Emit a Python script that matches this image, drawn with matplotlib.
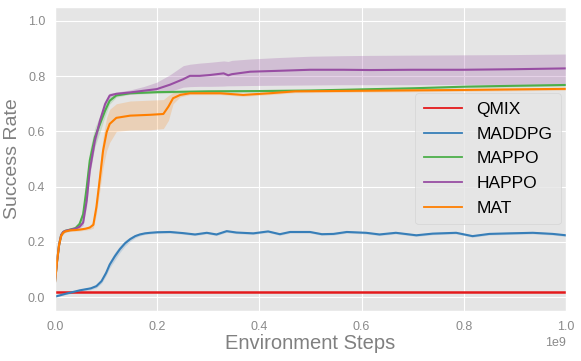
import matplotlib
matplotlib.use("Agg")
import matplotlib.pyplot as plt


# steps are in units of 1e9
QMIX_X = [0.0, 1.0]
QMIX_Y = [0.02, 0.02]

MADDPG_X = [0.0, 0.02, 0.049, 0.07, 0.081, 0.091, 0.1, 0.107, 0.117, 0.127, 0.137, 0.147,
            0.157, 0.166, 0.176, 0.186, 0.2, 0.225, 0.25, 0.274, 0.297, 0.316, 0.336, 0.355,
            0.388, 0.417, 0.44, 0.46, 0.499, 0.522, 0.545, 0.571, 0.609, 0.635, 0.667, 0.707,
            0.739, 0.785, 0.817, 0.85, 0.889, 0.935, 0.974, 1.0]
MADDPG_Y = [0.002, 0.012, 0.025, 0.032, 0.04, 0.058, 0.088, 0.118, 0.148, 0.174, 0.195, 0.21,
            0.221, 0.227, 0.231, 0.233, 0.235, 0.236, 0.232, 0.227, 0.233, 0.227, 0.239, 0.234,
            0.231, 0.238, 0.228, 0.236, 0.236, 0.228, 0.229, 0.236, 0.233, 0.227, 0.233, 0.224,
            0.23, 0.233, 0.221, 0.229, 0.231, 0.233, 0.229, 0.224]
MADDPG_STD = [0.003, 0.003, 0.004, 0.005, 0.006, 0.008, 0.01, 0.012, 0.014, 0.012, 0.01, 0.008,
              0.006, 0.005, 0.004, 0.004, 0.004, 0.004, 0.004, 0.004, 0.004, 0.004, 0.004, 0.004,
              0.004, 0.004, 0.004, 0.004, 0.004, 0.004, 0.004, 0.004, 0.004, 0.004, 0.004, 0.004,
              0.004, 0.004, 0.004, 0.004, 0.004, 0.004, 0.004, 0.004]

MAPPO_X = [0.0, 0.004, 0.008, 0.012, 0.016, 0.02, 0.03, 0.04, 0.048, 0.055, 0.062, 0.068,
           0.078, 0.088, 0.098, 0.107, 0.12, 0.147, 0.2, 0.3, 0.4, 0.5, 0.6, 0.7, 0.805, 0.9, 1.0]
MAPPO_Y = [0.055, 0.13, 0.19, 0.225, 0.236, 0.24, 0.245, 0.25, 0.265, 0.3, 0.398, 0.495,
           0.579, 0.627, 0.675, 0.711, 0.73, 0.738, 0.742, 0.745, 0.746, 0.748, 0.752, 0.756,
           0.762, 0.765, 0.768]
MAPPO_STD = [0.01, 0.01, 0.01, 0.008, 0.005, 0.004, 0.004, 0.006, 0.012, 0.025, 0.035, 0.04,
             0.035, 0.03, 0.02, 0.012, 0.006, 0.004, 0.004, 0.004, 0.004, 0.004, 0.004, 0.004,
             0.004, 0.004, 0.004]

HAPPO_X = [0.0, 0.004, 0.008, 0.012, 0.016, 0.02, 0.03, 0.04, 0.048, 0.055, 0.062, 0.068,
           0.078, 0.088, 0.098, 0.107, 0.12, 0.147, 0.173, 0.199, 0.225, 0.251, 0.264, 0.283,
           0.303, 0.33, 0.339, 0.346, 0.382, 0.434, 0.499, 0.564, 0.616, 0.7, 0.8, 0.9, 1.0]
HAPPO_Y = [0.055, 0.13, 0.19, 0.225, 0.236, 0.24, 0.244, 0.248, 0.255, 0.27, 0.35, 0.459,
           0.567, 0.639, 0.699, 0.73, 0.736, 0.741, 0.747, 0.753, 0.769, 0.789, 0.801, 0.801,
           0.804, 0.81, 0.803, 0.807, 0.816, 0.819, 0.823, 0.823, 0.822, 0.823, 0.823, 0.825,
           0.828]
HAPPO_LO = [0.05, 0.12, 0.18, 0.22, 0.232, 0.236, 0.24, 0.244, 0.25, 0.26, 0.33, 0.44,
            0.55, 0.625, 0.69, 0.722, 0.73, 0.735, 0.738, 0.742, 0.745, 0.76, 0.762, 0.763,
            0.763, 0.764, 0.765, 0.765, 0.766, 0.767, 0.768, 0.769, 0.769, 0.769, 0.77, 0.77,
            0.771]
HAPPO_HI = [0.06, 0.14, 0.2, 0.23, 0.24, 0.244, 0.248, 0.252, 0.26, 0.28, 0.37, 0.478,
            0.584, 0.653, 0.708, 0.738, 0.742, 0.75, 0.762, 0.778, 0.805, 0.838, 0.843, 0.847,
            0.85, 0.855, 0.853, 0.857, 0.862, 0.867, 0.872, 0.874, 0.875, 0.876, 0.877, 0.878,
            0.88]

MAT_X = [0.0, 0.004, 0.008, 0.012, 0.016, 0.02, 0.03, 0.04, 0.05, 0.06, 0.068, 0.075, 0.081,
         0.088, 0.094, 0.101, 0.107, 0.12, 0.147, 0.186, 0.212, 0.222, 0.231, 0.245, 0.264,
         0.323, 0.368, 0.42, 0.47, 0.6, 0.8, 1.0]
MAT_Y = [0.055, 0.13, 0.19, 0.222, 0.233, 0.238, 0.242, 0.243, 0.245, 0.248, 0.252, 0.262,
         0.326, 0.434, 0.53, 0.597, 0.627, 0.649, 0.657, 0.66, 0.663, 0.69, 0.72, 0.732, 0.738,
         0.738, 0.732, 0.738, 0.745, 0.747, 0.75, 0.754]
MAT_LO = [0.05, 0.12, 0.18, 0.216, 0.228, 0.234, 0.238, 0.239, 0.24, 0.243, 0.245, 0.25,
          0.3, 0.39, 0.47, 0.53, 0.56, 0.6, 0.605, 0.606, 0.61, 0.64, 0.7, 0.725, 0.733,
          0.733, 0.727, 0.733, 0.74, 0.742, 0.745, 0.749]
MAT_HI = [0.06, 0.14, 0.2, 0.228, 0.238, 0.242, 0.246, 0.247, 0.25, 0.253, 0.259, 0.274,
          0.36, 0.48, 0.58, 0.65, 0.68, 0.7, 0.71, 0.713, 0.715, 0.73, 0.74, 0.742, 0.743,
          0.743, 0.737, 0.743, 0.75, 0.752, 0.755, 0.759]

COLORS = {
    "QMIX": "#e41a1c",
    "MADDPG": "#377eb8",
    "MAPPO": "#4daf4a",
    "HAPPO": "#984ea3",
    "MAT": "#ff7f00",
}


def scale(xs):
    return [x * 1e9 for x in xs]


def main():
    plt.style.use("ggplot")
    plt.rcParams["font.family"] = ["Liberation Sans", "DejaVu Sans"]

    fig = plt.figure(figsize=(5.81, 3.61), dpi=100)
    ax = fig.add_axes([0.0947, 0.1385, 0.8795, 0.842])

    # QMIX
    ax.plot(scale(QMIX_X), QMIX_Y, color=COLORS["QMIX"], lw=1.8, label="QMIX")

    # MADDPG
    lo = [y - s for y, s in zip(MADDPG_Y, MADDPG_STD)]
    hi = [y + s for y, s in zip(MADDPG_Y, MADDPG_STD)]
    ax.fill_between(scale(MADDPG_X), lo, hi, color=COLORS["MADDPG"], alpha=0.2, lw=0)
    ax.plot(scale(MADDPG_X), MADDPG_Y, color=COLORS["MADDPG"], lw=1.5, label="MADDPG")

    # MAPPO
    lo = [y - s for y, s in zip(MAPPO_Y, MAPPO_STD)]
    hi = [y + s for y, s in zip(MAPPO_Y, MAPPO_STD)]
    ax.fill_between(scale(MAPPO_X), lo, hi, color=COLORS["MAPPO"], alpha=0.2, lw=0)
    ax.plot(scale(MAPPO_X), MAPPO_Y, color=COLORS["MAPPO"], lw=1.5, label="MAPPO")

    # HAPPO
    ax.fill_between(scale(HAPPO_X), HAPPO_LO, HAPPO_HI, color=COLORS["HAPPO"], alpha=0.25, lw=0)
    ax.plot(scale(HAPPO_X), HAPPO_Y, color=COLORS["HAPPO"], lw=1.5, label="HAPPO")

    # MAT
    ax.fill_between(scale(MAT_X), MAT_LO, MAT_HI, color=COLORS["MAT"], alpha=0.2, lw=0)
    ax.plot(scale(MAT_X), MAT_Y, color=COLORS["MAT"], lw=1.5, label="MAT")

    ax.set_xlim(0, 1e9)
    ax.set_ylim(-0.05, 1.05)
    ax.set_xticks([0, 0.2e9, 0.4e9, 0.6e9, 0.8e9, 1.0e9])
    ax.set_yticks([0.0, 0.2, 0.4, 0.6, 0.8, 1.0])
    ax.tick_params(length=0, pad=7, labelsize=9, colors="#8a8a8a")
    ax.xaxis.get_offset_text().set_fontsize(9)
    ax.xaxis.get_offset_text().set_color("#8a8a8a")

    ax.set_xlabel("Environment Steps", fontsize=14.5, color="#808080", labelpad=1)
    ax.set_ylabel("Success Rate", fontsize=14, color="#808080", labelpad=5)

    leg = ax.legend(loc="upper right", bbox_to_anchor=(0.99, 0.717), fontsize=12.5,
                    frameon=True, facecolor="#e5e5e5", edgecolor="#d0d0d0",
                    handlelength=2.2, borderpad=0.5, labelspacing=0.55,
                    borderaxespad=0)
    leg.get_frame().set_alpha(0.8)
    for line in leg.get_lines():
        line.set_linewidth(1.3)

    fig.savefig("out.png", dpi=100)


if __name__ == "__main__":
    main()
